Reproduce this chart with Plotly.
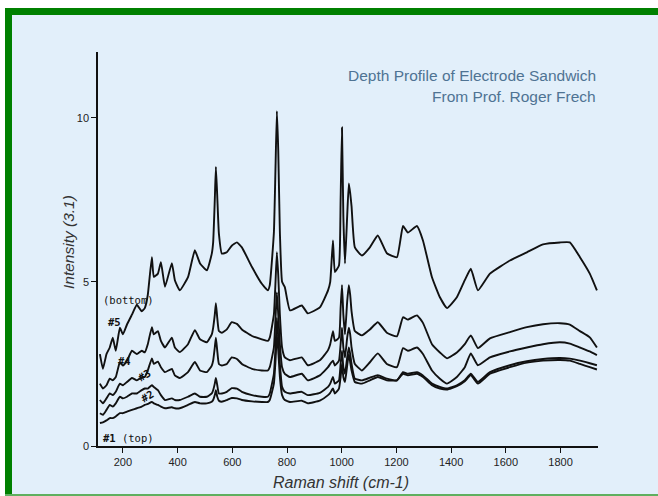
import plotly.graph_objects as go

# Raman shift (cm-1), shared sampling positions
raman_shift = [116, 127, 140, 152, 163, 174, 189, 200, 215, 233, 251, 269, 280, 291, 306, 313, 328, 339,
               354, 379, 390, 408, 438, 463, 482, 507, 525, 530, 536, 540, 545, 551, 562, 580, 598, 617,
               635, 672, 708, 730, 737, 752, 758, 763, 768, 774, 782, 792, 811, 854, 876, 920, 950, 958,
               968, 975, 990, 996, 1001, 1006, 1012, 1020, 1026, 1031, 1036, 1048, 1074, 1103, 1132, 1165,
               1202, 1224, 1242, 1275, 1297, 1330, 1359, 1385, 1421, 1450, 1472, 1498, 1542, 1615, 1677,
               1736, 1798, 1834, 1871, 1907, 1933]

# Intensity of each depth sample
s5_bottom = [2.8, 2.35, 2.8, 3.0, 3.3, 2.9, 3.6, 3.4, 3.7, 4.0, 4.3, 4.1, 4.2, 4.6, 5.75, 5.15, 5.25, 5.6,
             4.85, 5.57, 5.05, 4.74, 5.14, 5.96, 5.56, 5.35, 5.86, 6.2, 7.5, 8.5, 7.6, 6.47, 5.86, 5.9, 6.1, 6.2,
             6.05, 5.45, 4.94, 4.74, 4.9, 6.5, 8.5, 10.2, 9.0, 6.5, 5.0, 4.84, 4.13, 4.28, 4.04, 4.22, 4.74, 5.0,
             6.26, 5.3, 5.5, 7.5, 9.7, 7.0, 5.56, 7.0, 8.0, 7.7, 7.3, 6.05, 5.8, 6.05, 6.41, 5.87,
             5.75, 6.7, 6.5, 6.7, 6.26, 5.14, 4.53, 4.2, 4.53, 5.05, 5.4, 4.74, 5.25, 5.65, 5.9,
             6.14, 6.2, 6.2, 5.75, 5.25, 4.74]
s4 = [1.9, 1.75, 1.85, 2.05, 2.0, 2.1, 2.55, 2.45, 2.6, 2.9, 2.8, 2.9, 2.85, 3.1, 3.62, 3.4, 3.5, 3.2,
      3.0, 3.3, 3.0, 2.86, 3.1, 3.53, 3.25, 3.16, 3.4, 3.6, 4.0, 4.35, 3.9, 3.5, 3.45, 3.55, 3.77, 3.72,
      3.55, 3.35, 3.25, 3.2, 3.3, 4.0, 5.0, 5.9, 5.2, 4.0, 3.0, 2.7, 2.61, 2.7, 2.46, 2.61, 2.92, 3.1,
      3.5, 3.2, 3.3, 4.2, 4.9, 4.0, 3.4, 4.4, 4.9, 4.6, 4.1, 3.5, 3.37, 3.55, 3.77, 3.45,
      3.34, 3.92, 3.85, 3.98, 3.75, 3.1, 2.85, 2.67, 2.85, 3.1, 3.37, 2.98, 3.28, 3.47, 3.62,
      3.71, 3.74, 3.7, 3.5, 3.31, 3.0]
s3 = [1.4, 1.3, 1.45, 1.6, 1.55, 1.65, 1.9, 1.85, 1.95, 2.07, 2.0, 2.1, 2.1, 2.3, 2.67, 2.5, 2.57, 2.4,
      2.25, 2.35, 2.15, 2.07, 2.25, 2.56, 2.3, 2.25, 2.45, 2.6, 3.0, 3.3, 2.9, 2.5, 2.45, 2.5, 2.7, 2.65,
      2.5, 2.35, 2.3, 2.3, 2.4, 3.0, 3.9, 4.68, 4.0, 3.1, 2.4, 2.2, 2.1, 2.2, 2.0, 2.15, 2.4, 2.5,
      2.6, 2.45, 2.6, 3.1, 3.6, 3.0, 2.7, 3.3, 3.6, 3.4, 3.0, 2.5, 2.3, 2.55, 2.82, 2.5,
      2.4, 2.98, 2.9, 3.0, 2.8, 2.3, 2.05, 1.9, 2.1, 2.4, 2.82, 2.46, 2.7, 2.88, 3.0,
      3.1, 3.16, 3.12, 3.0, 2.88, 2.77]
s2 = [1.0, 0.95, 1.1, 1.25, 1.2, 1.3, 1.5, 1.45, 1.5, 1.6, 1.6, 1.7, 1.75, 1.75, 1.85, 1.8, 1.7, 1.55,
      1.4, 1.45, 1.4, 1.4, 1.5, 1.6, 1.5, 1.5, 1.6, 1.7, 1.9, 2.07, 1.85, 1.6, 1.6, 1.65, 1.76, 1.75,
      1.65, 1.55, 1.5, 1.5, 1.6, 2.2, 3.0, 3.9, 3.3, 2.5, 1.8, 1.65, 1.6, 1.65, 1.55, 1.62, 1.8, 1.9,
      2.1, 1.9, 2.0, 2.5, 2.9, 2.4, 2.2, 2.7, 3.0, 2.8, 2.5, 2.05, 2.0, 2.08, 2.16, 2.05,
      2.0, 2.25, 2.2, 2.25, 2.15, 1.9, 1.8, 1.75, 1.85, 2.0, 2.2, 1.95, 2.25, 2.46, 2.58,
      2.65, 2.68, 2.66, 2.6, 2.52, 2.46]
s1_top = [0.7, 0.72, 0.78, 0.85, 0.85, 0.9, 1.0, 1.0, 1.05, 1.1, 1.15, 1.2, 1.25, 1.28, 1.34, 1.3, 1.25, 1.2,
          1.15, 1.18, 1.15, 1.15, 1.25, 1.34, 1.3, 1.3, 1.35, 1.4, 1.55, 1.7, 1.5, 1.38, 1.35, 1.4, 1.46, 1.45,
          1.4, 1.36, 1.34, 1.34, 1.4, 1.9, 2.6, 3.4, 2.9, 2.1, 1.55, 1.4, 1.34, 1.38, 1.3, 1.38, 1.55, 1.62,
          1.75, 1.6, 1.75, 2.1, 2.5, 2.1, 1.95, 2.45, 2.8, 2.55, 2.3, 1.95, 1.9, 2.0, 2.1, 2.0,
          2.0, 2.2, 2.15, 2.2, 2.1, 1.85, 1.75, 1.72, 1.82, 1.97, 2.16, 1.9, 2.2, 2.4, 2.54,
          2.6, 2.62, 2.6, 2.5, 2.4, 2.33]

series = [("#5 (bottom)", s5_bottom), ("#4", s4), ("#3", s3), ("#2", s2), ("#1 (top)", s1_top)]

x_ticks = [200, 400, 600, 800, 1000, 1200, 1400, 1600, 1800]
y_ticks = [0, 5, 10]

W, H = 658, 496
# plot area in page pixels: x 98..598, y 52..446
L, R, T, B = 98, W - 598, 52, H - 446
PW, PH = W - L - R, H - T - B


def px(x):
    return (x - L) / PW


def py(y):
    return (H - B - y) / PH


fig = go.Figure()
for name, vals in series:
    fig.add_trace(go.Scatter(x=raman_shift, y=vals, mode="lines", name=name,
                             line=dict(color="#111111", width=1.9, shape="spline", smoothing=0.4),
                             showlegend=False, hoverinfo="skip"))

bg = "#E2EFFA"
green = "#008000"
shapes = [
    # white margins outside the frame
    dict(type="rect", xref="paper", yref="paper", x0=px(-5), x1=px(W + 5), y0=py(8), y1=py(-5),
         fillcolor="white", line_width=0, layer="below"),
    dict(type="rect", xref="paper", yref="paper", x0=px(-5), x1=px(5), y0=py(H + 5), y1=py(-5),
         fillcolor="white", line_width=0, layer="below"),
    # green frame
    dict(type="rect", xref="paper", yref="paper", x0=px(5), x1=px(W + 5), y0=py(15), y1=py(8),
         fillcolor=green, line_width=0),
    dict(type="rect", xref="paper", yref="paper", x0=px(5), x1=px(12), y0=py(H + 5), y1=py(8),
         fillcolor=green, line_width=0),
    dict(type="rect", xref="paper", yref="paper", x0=px(5), x1=px(W + 5), y0=py(H + 5), y1=py(H - 2),
         fillcolor="#5FAF5F", line_width=0),
]

lab_font = dict(family="DejaVu Sans Mono", size=10.5, color="#111111")
annotations = [
    dict(text="Depth Profile of Electrode Sandwich", x=px(598), y=py(75), xanchor="right", yanchor="middle",
         font=dict(family="Liberation Sans, Arial", size=15.5, color="#4F7393")),
    dict(text="From Prof. Roger Frech", x=px(598), y=py(96), xanchor="right", yanchor="middle",
         font=dict(family="Liberation Sans, Arial", size=15.5, color="#4F7393")),
    dict(text="<i>Raman shift (cm-1)</i>", x=px(341), y=py(482), xanchor="center", yanchor="middle",
         font=dict(family="Liberation Sans, Arial", size=16, color="#333333")),
    dict(text="<i>Intensity (3.1)</i>", x=px(68), y=py(242), xanchor="center", yanchor="middle",
         textangle=-90, font=dict(family="Liberation Sans, Arial", size=15.5, color="#333333")),
    dict(text="(bottom)", x=px(101), y=py(300), xanchor="left", yanchor="middle", font=lab_font),
    dict(text="<b>#5</b>", x=px(106), y=py(322), xanchor="left", yanchor="middle", font=lab_font),
    dict(text="<b>#4</b>", x=px(116), y=py(361), xanchor="left", yanchor="middle", font=lab_font),
    dict(text="<b>#3</b>", x=px(133), y=py(375), xanchor="left", yanchor="middle", textangle=-30, font=lab_font),
    dict(text="<b>#2</b>", x=px(136), y=py(396), xanchor="left", yanchor="middle", textangle=-30, font=lab_font),
    dict(text="<b>#1</b> (top)", x=px(101), y=py(438), xanchor="left", yanchor="middle", font=lab_font),
]
for a in annotations:
    a.update(xref="paper", yref="paper", showarrow=False)

fig.update_layout(
    width=W, height=H,
    margin=dict(l=L, r=R, t=T, b=B, pad=0),
    paper_bgcolor=bg, plot_bgcolor=bg,
    shapes=shapes, annotations=annotations,
    font=dict(family="Liberation Sans, Arial", color="#222222"),
    xaxis=dict(range=[109, 1937], tickvals=x_ticks, ticktext=[str(v) for v in x_ticks],
               showgrid=False, zeroline=False, showline=True, linecolor="#111111", linewidth=1.5,
               ticks="outside", ticklen=5, tickwidth=1.2, tickcolor="#111111",
               tickfont=dict(size=11, color="#222222")),
    yaxis=dict(range=[0, 12], tickvals=y_ticks, ticktext=[str(v) for v in y_ticks],
               showgrid=False, zeroline=False, showline=True, linecolor="#111111", linewidth=1.5,
               ticks="outside", ticklen=5, tickwidth=1.2, tickcolor="#111111",
               tickfont=dict(size=11, color="#222222")),
)

fig.write_html("out.html", config={"displayModeBar": False},
               post_script="document.body.style.margin='0px';document.body.style.overflow='hidden';")
